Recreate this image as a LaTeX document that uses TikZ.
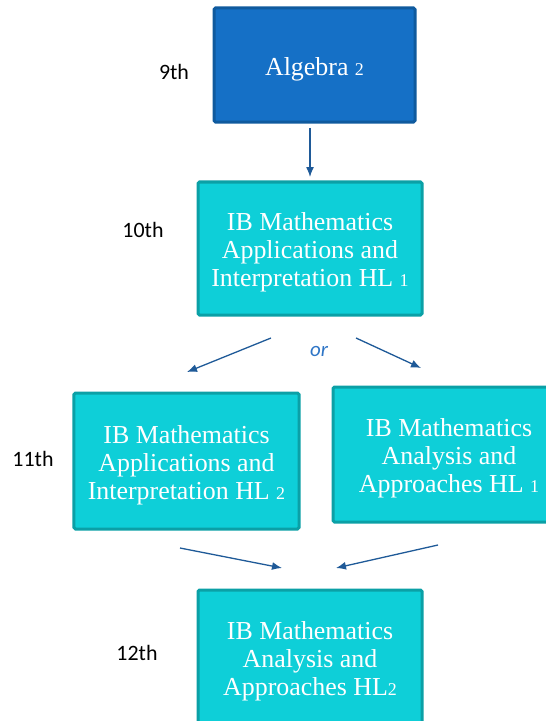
\documentclass[tikz,border=0pt]{standalone}
\usepackage{fontspec}
\setmainfont{Liberation Serif}
\newfontfamily\gradefont{Carlito}
\usetikzlibrary{arrows.meta}

\definecolor{algblue}{HTML}{1570C6}
\definecolor{algedge}{HTML}{0F5A9E}
\definecolor{ibcyan}{HTML}{0ECFD8}
\definecolor{ibedge}{HTML}{0BA0A6}
\definecolor{arrowblue}{HTML}{1F5A98}
\definecolor{orblue}{HTML}{2E75C6}

% x-height digit, stands in for an old-style numeral
\newcommand{\lowdigit}[1]{{\fontsize{18}{28}\selectfont #1}}
\newcommand{\firstline}{\rule{0pt}{26bp}}

\begin{document}
\begin{tikzpicture}[x=1bp, y=-1bp,
    course/.style={draw=ibedge, fill=ibcyan, line width=3bp, rounded corners=1.5bp,
        text=white, align=center, inner sep=2bp,
        font=\fontsize{26}{28}\selectfont},
    firstcourse/.style={course, draw=algedge, fill=algblue},
    grade/.style={font=\gradefont\fontsize{22}{26}\selectfont, text=black},
    arrow/.style={-{Latex[length=10bp, width=8bp]}, line width=1.3bp, draw=arrowblue}
]
    \useasboundingbox (0, 0) rectangle (546, 721);
    \clip (0, 0) rectangle (546, 721);

    \node[firstcourse, minimum width=201bp, minimum height=114bp]
        (alg) at (314.5, 65) {\firstline Algebra \lowdigit{2}};
    \node[course, minimum width=224bp, minimum height=133bp]
        (aih_one) at (310, 248.5)
        {\firstline IB Mathematics\\Applications and\\Interpretation HL \lowdigit{1}};
    \node[course, minimum width=225bp, minimum height=136bp]
        (aih_two) at (186.5, 461)
        {\firstline IB Mathematics\\Applications and\\Interpretation HL \lowdigit{2}};
    \node[course, minimum width=232bp, minimum height=135bp]
        (aah_one) at (449, 454.5)
        {\firstline IB Mathematics\\Analysis and\\Approaches HL \lowdigit{1}};
    \node[course, minimum width=224bp, minimum height=134bp]
        (aah_two) at (310, 657)
        {\firstline IB Mathematics\\Analysis and\\Approaches HL\lowdigit{2}};

    \node[grade] (g_nine) at (174, 72) {9th};
    \node[grade] (g_ten) at (143, 230) {10th};
    \node[grade] (g_eleven) at (33, 459) {11th};
    \node[grade] (g_twelve) at (137, 653) {12th};

    \node[font=\gradefont\itshape\fontsize{21}{24}\selectfont, text=orblue]
        (or_label) at (319, 351) {or};

    % free arrow ends between the boxes
    \coordinate (alg_out) at (310, 128);
    \coordinate (aih_one_in) at (310, 177);
    \coordinate (split_left) at (271, 338);
    \coordinate (split_left_end) at (187, 372);
    \coordinate (split_right) at (356, 338);
    \coordinate (split_right_end) at (421, 368);
    \coordinate (join_left) at (180, 548);
    \coordinate (join_left_end) at (282, 568);
    \coordinate (join_right) at (438, 545);
    \coordinate (join_right_end) at (336, 568);

    \draw[arrow] (alg_out) -- (aih_one_in);
    \draw[arrow] (split_left) -- (split_left_end);
    \draw[arrow] (split_right) -- (split_right_end);
    \draw[arrow] (join_left) -- (join_left_end);
    \draw[arrow] (join_right) -- (join_right_end);
\end{tikzpicture}
\end{document}
